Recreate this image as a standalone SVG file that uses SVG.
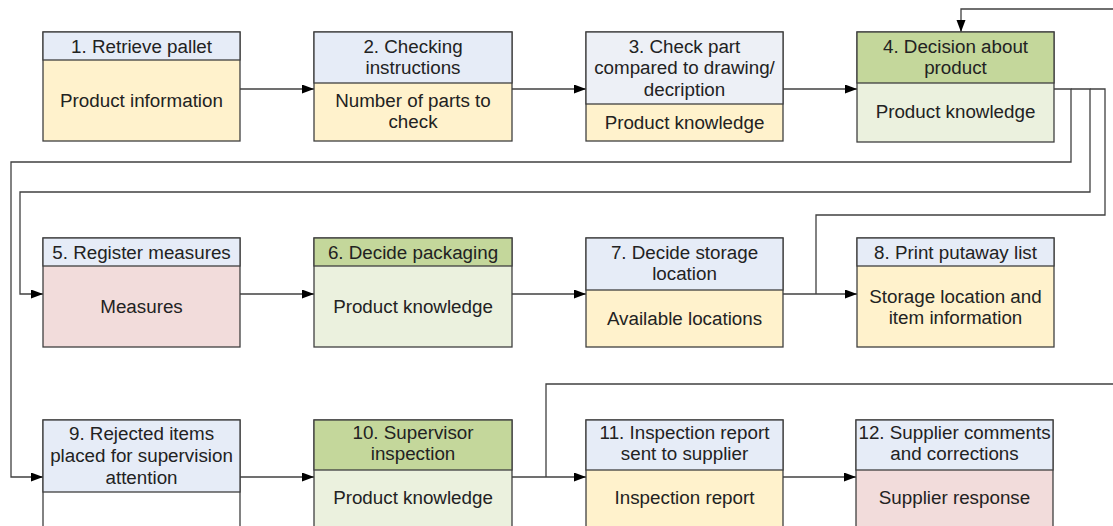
<svg xmlns="http://www.w3.org/2000/svg" width="1113" height="526" viewBox="0 0 1113 526">
<defs>
<marker id="arr" markerUnits="userSpaceOnUse" markerWidth="13" markerHeight="10" refX="12" refY="4.5" orient="auto">
<path d="M0,0 L12,4.5 L0,9 z" fill="#000"/>
</marker>
<style>
.box{stroke:#404040;stroke-width:1.3}
.hb{fill:#E6ECF7}
.hg{fill:#C4D79B}
.by{fill:#FFF2CC}
.bg{fill:#EBF1DE}
.bp{fill:#F2DCDB}
.bw{fill:#FFFFFF}
text{font-family:"Liberation Sans",Arial,sans-serif;font-size:18.8px;fill:#222;text-anchor:middle;dominant-baseline:central}
.c{fill:none;stroke:#404040;stroke-width:1.3}
.ca{fill:none;stroke:#404040;stroke-width:1.3;marker-end:url(#arr)}
</style>
</defs>
<rect width="1113" height="526" fill="#fff"/>

<g id="connectors">
<path class="ca" d="M240,89 H314"/>
<path class="ca" d="M512,89 H586"/>
<path class="ca" d="M783,89 H857"/>
<path class="ca" d="M1113,9 H961 V32"/>
<path class="ca" d="M1054,89 H1071 V162 H11 V477 H43"/>
<path class="ca" d="M1071,89 H1090 V192 H20 V294 H43"/>
<path class="c" d="M1090,89 H1105 V215 H816 V294"/>
<path class="ca" d="M240,294 H314"/>
<path class="ca" d="M512,294 H586"/>
<path class="ca" d="M783,294 H857"/>
<path class="ca" d="M240,477 H314"/>
<path class="ca" d="M512,477 H586"/>
<path class="c" d="M546,477 V384 H1113"/>
<path class="ca" d="M783,477 H856"/>
</g>

<g id="node1">
<rect class="box by" x="43" y="32" width="197" height="109"/>
<rect class="box hb" x="43" y="32" width="197" height="28"/>
<text x="141.5" y="46">1. Retrieve pallet</text>
<text x="141.5" y="100">Product information</text>
</g>
<g id="node2">
<rect class="box by" x="314" y="32" width="198" height="109"/>
<rect class="box hb" x="314" y="32" width="198" height="51"/>
<text x="413" y="46">2. Checking</text>
<text x="413" y="67">instructions</text>
<text x="413" y="100">Number of parts to</text>
<text x="413" y="121">check</text>
</g>
<g id="node3">
<rect class="box by" x="586" y="32" width="197" height="109"/>
<rect class="box" fill="#EDF0F6" x="586" y="32" width="197" height="72"/>
<text x="684.5" y="46">3. Check part</text>
<text x="684.5" y="67">compared to drawing/</text>
<text x="684.5" y="89">decription</text>
<text x="684.5" y="122">Product knowledge</text>
</g>
<g id="node4">
<rect class="box bg" x="857" y="32" width="197" height="110"/>
<rect class="box hg" x="857" y="32" width="197" height="51"/>
<text x="955.5" y="46">4. Decision about</text>
<text x="955.5" y="67">product</text>
<text x="955.5" y="111">Product knowledge</text>
</g>

<g id="node5">
<rect class="box bp" x="43" y="238" width="197" height="109"/>
<rect class="box hb" x="43" y="238" width="197" height="28"/>
<text x="141.5" y="252">5. Register measures</text>
<text x="141.5" y="306">Measures</text>
</g>
<g id="node6">
<rect class="box bg" x="314" y="238" width="198" height="109"/>
<rect class="box hg" x="314" y="238" width="198" height="28"/>
<text x="413" y="252">6. Decide packaging</text>
<text x="413" y="306">Product knowledge</text>
</g>
<g id="node7">
<rect class="box by" x="586" y="238" width="197" height="109"/>
<rect class="box hb" x="586" y="238" width="197" height="52"/>
<text x="684.5" y="252">7. Decide storage</text>
<text x="684.5" y="273">location</text>
<text x="684.5" y="318">Available locations</text>
</g>
<g id="node8">
<rect class="box by" x="857" y="238" width="197" height="109"/>
<rect class="box hb" x="857" y="238" width="197" height="28"/>
<text x="955.5" y="252">8. Print putaway list</text>
<text x="955.5" y="296">Storage location and</text>
<text x="955.5" y="317">item information</text>
</g>

<g id="node9">
<rect class="box bw" x="43" y="420" width="197" height="110"/>
<rect class="box hb" x="43" y="420" width="197" height="72"/>
<text x="141.5" y="433">9. Rejected items</text>
<text x="141.5" y="455">placed for supervision</text>
<text x="141.5" y="477">attention</text>
</g>
<g id="node10">
<rect class="box bg" x="314" y="420" width="198" height="110"/>
<rect class="box hg" x="314" y="420" width="198" height="50"/>
<text x="413" y="432">10. Supervisor</text>
<text x="413" y="453">inspection</text>
<text x="413" y="497">Product knowledge</text>
</g>
<g id="node11">
<rect class="box by" x="586" y="420" width="197" height="110"/>
<rect class="box hb" x="586" y="420" width="197" height="50"/>
<text x="684.5" y="432">11. Inspection report</text>
<text x="684.5" y="453">sent to supplier</text>
<text x="684.5" y="497">Inspection report</text>
</g>
<g id="node12">
<rect class="box bp" x="856" y="420" width="197" height="110"/>
<rect class="box hb" x="856" y="420" width="197" height="50"/>
<text x="954.5" y="432">12. Supplier comments</text>
<text x="954.5" y="453">and corrections</text>
<text x="954.5" y="497">Supplier response</text>
</g>
</svg>
